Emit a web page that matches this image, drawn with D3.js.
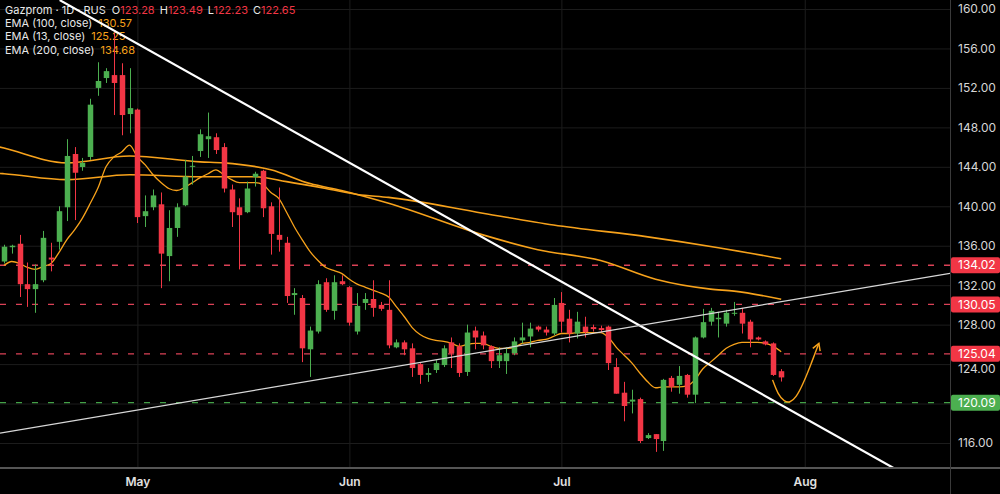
<!DOCTYPE html>
<meta charset="utf-8">
<style>
body { margin: 0; background: #000; }
svg { display: block; font-family: Inter, "Noto Sans", sans-serif; }
</style>
<body>
<script src="https://cdn.jsdelivr.net/npm/d3@7/dist/d3.min.js"></script>
<script>

// daily candles, bar index 0..99
var opens  = [134.4,135.85,136.2,132.1,131.6,132.5,134.8,136.4,139.9,145.3,
              143.98,145.0,152.0,153.0,153.3,153.3,149.35,149.8,139.0,139.9,
              140.2,134.95,137.8,140.1,144.0,145.6,146.8,147.0,146.0,141.7,
              139.9,139.4,142.96,143.6,140.0,137.1,136.3,131.0,130.7,125.5,
              127.3,132.3,129.4,132.4,131.8,127.3,130.2,130.6,130.0,129.5,
              125.7,126.2,125.6,124.0,122.9,123.4,123.9,126.2,125.8,123.2,
              127.4,126.9,125.8,124.3,124.3,125.1,126.4,126.8,127.8,127.5,
              127.1,130.2,128.6,127.1,127.8,127.75,127.65,127.8,123.7,121.1,
              120.2,120.45,116.5,116.9,116.2,122.6,121.9,122.9,120.9,126.7,
              128.3,128.55,128.1,129.1,129.2,128.3,126.7,126.3,126.1,123.28];
var highs  = [136.1,136.1,137.1,134.3,134.1,137.5,136.3,140.0,146.8,146.0,
              144.9,150.9,154.6,154.0,157.6,154.5,154.0,149.9,141.1,141.7,
              141.4,139.6,140.3,144.7,145.1,147.8,149.5,147.4,146.4,142.2,
              140.8,142.5,143.5,143.7,140.4,141.9,136.9,131.7,131.0,127.8,
              132.5,132.7,133.0,133.0,131.9,131.2,131.2,132.5,130.3,132.5,
              126.5,126.4,126.1,124.1,123.6,124.4,125.9,126.7,126.1,128.0,
              127.8,127.3,125.9,125.7,125.7,126.7,128.2,128.2,127.9,127.8,
              130.7,131.3,129.5,129.3,128.8,128.0,127.9,127.9,124.6,122.2,
              121.4,120.6,117.0,116.9,122.5,122.8,123.8,123.0,126.8,129.6,
              129.7,129.3,129.5,130.3,129.7,128.5,126.8,126.4,126.2,123.49];
var lows   = [134.2,135.2,130.8,129.8,129.2,132.3,133.4,135.6,138.5,138.6,
              143.6,144.7,151.2,152.5,149.25,147.2,147.4,138.3,137.9,139.6,
              131.7,132.4,136.9,140.0,142.2,145.0,144.9,145.3,141.4,137.9,
              133.6,139.3,142.0,138.9,135.1,135.4,130.2,129.0,124.2,122.7,
              127.1,129.3,128.5,132.0,127.9,127.0,129.5,128.8,129.4,125.6,
              125.6,124.9,122.7,122.0,122.2,123.1,123.7,123.6,122.7,122.8,
              125.5,125.5,123.6,123.6,123.0,124.9,126.1,125.7,127.3,126.9,
              126.9,127.2,126.2,126.6,126.7,127.3,127.2,123.4,121.0,118.2,
              119.0,116.0,116.4,115.1,115.2,121.2,121.0,120.6,120.05,126.6,
              127.9,126.7,127.8,128.9,127.1,125.7,126.4,125.9,122.8,122.23];
var closes = [135.9,136.0,132.1,131.6,132.1,136.8,134.6,139.5,145.1,143.4,
              144.4,150.3,152.7,153.7,152.5,149.25,149.95,138.9,139.5,141.1,
              135.2,137.8,139.9,143.0,144.1,147.3,147.1,145.7,141.8,139.4,
              139.1,141.8,143.3,139.8,137.2,136.6,130.9,131.2,125.6,127.4,
              132.1,129.5,132.3,132.1,128.2,129.9,130.6,129.7,129.6,125.9,
              126.2,125.5,123.6,122.9,123.1,124.1,125.6,125.1,123.1,127.2,
              126.7,125.9,124.3,124.9,125.1,126.3,126.7,127.6,127.5,127.2,
              130.0,128.3,127.1,128.3,127.25,127.55,127.45,124.1,121.0,119.75,
              120.4,116.2,116.8,116.4,122.4,121.7,122.8,120.9,126.7,128.25,
              129.4,128.7,129.2,129.2,128.1,126.5,126.5,126.0,122.9,122.65];

// EMA 13, one value per bar
var ema13 = [134.0,134.4,134.2,133.8,133.6,133.9,134.2,135.3,136.6,137.6,
             138.8,140.3,141.9,144.0,145.0,145.5,146.2,145.0,144.2,143.2,
             142.4,141.8,141.6,141.9,142.4,142.9,143.3,143.7,143.2,142.7,
             142.4,142.4,142.4,142.2,141.4,140.8,139.4,137.9,136.6,135.4,
             134.5,133.8,133.5,133.2,132.6,132.1,131.8,131.5,131.2,130.8,
             129.8,128.8,127.7,127.0,126.6,126.4,126.3,126.1,125.8,126.0,
             126.1,126.1,125.8,125.6,125.6,125.7,126.1,126.2,126.4,126.5,
             126.8,127.1,127.1,127.2,127.2,127.2,127.2,126.7,125.7,124.9,
             124.1,123.1,122.2,121.6,121.7,121.7,121.7,121.8,122.4,123.5,
             124.2,124.9,125.6,126.0,126.2,126.2,126.2,126.1,125.8,125.25];

// EMA 100 / EMA 200 read at a few bars
var ema100Bars = [-1, 0, 8, 16, 25, 28, 34, 39, 43, 49, 61, 68, 76, 83, 90, 93, 99];
var ema100     = [146.1, 145.9, 144.4, 145.1, 144.5, 144.4, 143.7, 142.3, 141.6, 140.3, 137.1, 135.6, 134.5, 132.6, 131.6, 131.4, 130.57];
var ema200Bars = [-1, 0, 8, 16, 25, 32, 36, 41, 45, 49, 61, 70, 82, 91, 99];
var ema200     = [143.35, 143.3, 142.7, 143.2, 143.0, 143.0, 142.5, 141.8, 141.2, 140.9, 139.3, 138.1, 136.9, 135.8, 134.68];

var months    = ["May", "Jun", "Jul", "Aug"];
var monthBars = [17, 44, 71, 102];
var priceTicks = [116, 120, 124, 128, 132, 136, 140, 144, 148, 152, 156, 160];

var levels     = [134.02, 130.05, 125.04, 120.09];
var levelTypes = ["res", "res", "res", "sup"];

// drawings: [bar, price]
var trendDown = [[7.1, 160.9], [113.8, 113.25]];
var trendUp   = [[-0.5, 117.0], [120.5, 133.2]];
var arrowPts  = [[97.9, 122.4], [98.6, 120.9], [99.4, 120.2], [100.1, 120.07], [100.9, 120.6], [101.8, 122.0], [102.8, 124.0], [103.8, 126.1]];

var W = 1000, H = 494, plotW = 950, plotB = 468;
var up = "#4caf50", down = "#f23645", orange = "#f7a21b";

var x = d3.scaleLinear().domain([-0.5, 120.5]).range([0, plotW]);
var y = d3.scaleLinear().domain([160, 116]).range([9, 443]);
var bw = (x(1) - x(0)) * 0.7;

var svg = d3.select("body").append("svg").attr("width", W).attr("height", H);
svg.append("rect").attr("width", W).attr("height", H).attr("fill", "#000");

svg.append("clipPath").attr("id", "plot")
  .append("rect").attr("width", plotW).attr("height", plotB);

// grid
svg.append("g")
    .attr("transform", "translate(" + plotW + ",0)")
    .call(d3.axisLeft(y).tickValues(priceTicks).tickSize(plotW).tickFormat(""))
    .call(function(g) { g.select(".domain").remove(); g.selectAll("line").attr("stroke", "#1c1c1c"); });
svg.append("g")
    .call(d3.axisBottom(x).tickValues(monthBars).tickSize(plotB).tickFormat(""))
    .call(function(g) { g.select(".domain").remove(); g.selectAll("line").attr("stroke", "#1c1c1c"); });

// legend (sits under the drawings)
var legend = svg.append("g").attr("font-size", 11).attr("fill", "#e8e8e8");
var l1 = legend.append("text").attr("x", 5).attr("y", 14);
l1.append("tspan").text("Gazprom · 1D · RUS");
[["O", opens], ["H", highs], ["L", lows], ["C", closes]].forEach(function(p, i) {
  l1.append("tspan").attr("dx", i === 0 ? 6 : 5).text(p[0]);
  l1.append("tspan").attr("fill", down).text(p[1][p[1].length - 1].toFixed(2));
});
[["EMA (100, close)", ema100], ["EMA (13, close)", ema13], ["EMA (200, close)", ema200]].forEach(function(e, i) {
  var t = legend.append("text").attr("x", 5).attr("y", 27 + i * 13.3);
  t.append("tspan").text(e[0]);
  t.append("tspan").attr("dx", 6).attr("fill", orange).text(e[1][e[1].length - 1].toFixed(2));
});

var plot = svg.append("g").attr("clip-path", "url(#plot)");

// level lines
plot.selectAll(".lvl").data(levels).enter().append("line")
    .attr("x1", 0).attr("x2", plotW)
    .attr("y1", function(d) { return y(d); }).attr("y2", function(d) { return y(d); })
    .attr("stroke", function(d, i) { return levelTypes[i] === "sup" ? "#43a047" : "#dc4257"; })
    .attr("stroke-width", 1.3)
    .attr("stroke-dasharray", "6,10");

// EMAs
var line = d3.line().x(function(d) { return x(d[0]); }).y(function(d) { return y(d[1]); });
plot.append("path")
    .datum(ema100Bars.map(function(b, i) { return [b, ema100[i]]; }))
    .attr("d", line.curve(d3.curveMonotoneX))
    .attr("fill", "none").attr("stroke", orange).attr("stroke-width", 1.6);
plot.append("path")
    .datum(ema200Bars.map(function(b, i) { return [b, ema200[i]]; }))
    .attr("d", line.curve(d3.curveMonotoneX))
    .attr("fill", "none").attr("stroke", orange).attr("stroke-width", 1.6);
plot.append("path")
    .datum(ema13.map(function(v, i) { return [i, v]; }))
    .attr("d", line.curve(d3.curveMonotoneX))
    .attr("fill", "none").attr("stroke", orange).attr("stroke-width", 1.3);

// candles
var bars = plot.selectAll(".bar").data(d3.range(closes.length)).enter().append("g");
bars.append("line")
    .attr("x1", function(i) { return Math.round(x(i)) + 0.5; })
    .attr("x2", function(i) { return Math.round(x(i)) + 0.5; })
    .attr("y1", function(i) { return y(highs[i]); })
    .attr("y2", function(i) { return y(lows[i]); })
    .attr("stroke", function(i) { return closes[i] >= opens[i] ? up : down; });
bars.append("rect")
    .attr("x", function(i) { return Math.round(x(i)) + 0.5 - bw / 2; })
    .attr("width", bw)
    .attr("y", function(i) { return y(Math.max(opens[i], closes[i])); })
    .attr("height", function(i) { return Math.max(1, Math.abs(y(opens[i]) - y(closes[i]))); })
    .attr("fill", function(i) { return closes[i] >= opens[i] ? up : down; });

// trend lines
plot.append("path").datum(trendDown).attr("d", line.curve(d3.curveLinear))
    .attr("stroke", "#ffffff").attr("stroke-width", 2.2).attr("fill", "none");
plot.append("path").datum(trendUp).attr("d", line.curve(d3.curveLinear))
    .attr("stroke", "#d8d8d8").attr("stroke-width", 1.2).attr("fill", "none");

// projected path arrow
svg.append("defs").append("marker")
    .attr("id", "head").attr("viewBox", "0 0 10 10")
    .attr("refX", 8).attr("refY", 5)
    .attr("markerWidth", 7).attr("markerHeight", 7)
    .attr("orient", "auto")
  .append("path").attr("d", "M1,1 L8,5 L1,9")
    .attr("fill", "none").attr("stroke", orange).attr("stroke-width", 1.5);
plot.append("path").datum(arrowPts).attr("d", line.curve(d3.curveBasis))
    .attr("fill", "none").attr("stroke", orange).attr("stroke-width", 1.4)
    .attr("marker-end", "url(#head)");

// separators
svg.append("line").attr("x1", 0).attr("x2", W).attr("y1", plotB).attr("y2", plotB)
    .attr("stroke", "#555").attr("stroke-width", 2);
svg.append("line").attr("x1", plotW + 0.5).attr("x2", plotW + 0.5).attr("y1", 0).attr("y2", H)
    .attr("stroke", "#3a3a3a");

// price axis: a label fully under a level tag is dropped, one partly under it
// is pushed just clear of the tag edge
function tagGap(t) {
  var g = 0;
  levels.forEach(function(l) {
    var d = y(t) - y(l);
    if (Math.abs(d) < 15) g = d;
  });
  return g;
}
var shown = priceTicks.filter(function(t) { var g = tagGap(t); return g === 0 || Math.abs(g) > 5; });
svg.append("g")
    .attr("transform", "translate(" + plotW + ",0)")
    .call(d3.axisRight(y).tickValues(shown).tickFormat(d3.format(".2f")).tickSize(0).tickPadding(8))
    .call(function(g) {
      g.select(".domain").remove();
      g.selectAll("text")
        .attr("fill", "#d6d6d6").attr("font-size", 12).attr("font-family", "Inter, sans-serif")
        .attr("y", function(t) { var gp = tagGap(t); return gp === 0 ? 0 : (gp > 0 ? 15 - gp : gp - 15) ; });
    });

// time axis
svg.append("g")
    .attr("transform", "translate(0," + plotB + ")")
    .call(d3.axisBottom(x).tickValues(monthBars).tickFormat(function(d, i) { return months[i]; }).tickSize(0).tickPadding(9))
    .call(function(g) {
      g.select(".domain").remove();
      g.selectAll("text").attr("fill", "#e0e0e0").attr("font-size", 12).attr("font-weight", 600).attr("font-family", "Inter, sans-serif");
    });

// level price tags
var tags = svg.selectAll(".tag").data(levels).enter().append("g")
    .attr("transform", function(d) { return "translate(" + (plotW + 1) + "," + y(d) + ")"; });
tags.append("rect").attr("x", 0).attr("y", -8).attr("width", W - plotW - 1).attr("height", 16).attr("rx", 2)
    .attr("fill", function(d, i) { return levelTypes[i] === "sup" ? "#4caf50" : "#f23645"; });
tags.append("text").attr("x", 7).attr("dy", "0.35em")
    .attr("fill", "#fff").attr("font-size", 12)
    .text(function(d) { return d.toFixed(2); });

</script>
